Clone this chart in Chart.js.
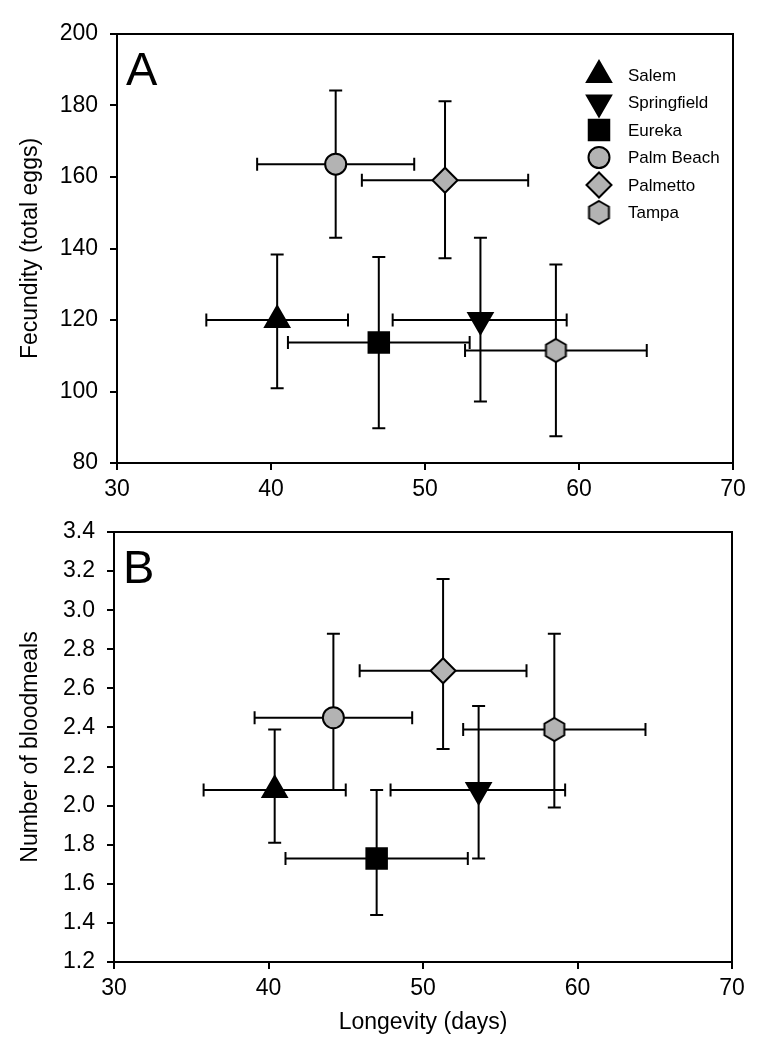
<!DOCTYPE html>
<html>
<head>
<meta charset="utf-8">
<script src="https://cdn.jsdelivr.net/npm/chart.js@4.4.0/dist/chart.umd.min.js"></script>
<style>
  html, body { margin: 0; padding: 0; background: #fff; }
  canvas { display: block; }
</style>
</head>
<body>
<canvas id="chartA" width="765" height="500"></canvas>
<canvas id="chartB" width="765" height="550"></canvas>
<script>
// values
const sites = ['Salem', 'Springfield', 'Eureka', 'Palm Beach', 'Palmetto', 'Tampa'];

const longevity   = [40.4, 53.6, 47.0, 44.2, 51.3, 58.5];
const longevityLo = [35.8, 47.9, 41.1, 39.1, 45.9, 52.6];
const longevityHi = [45.0, 59.2, 52.9, 49.3, 56.7, 64.4];

const fecundity   = [120.0, 120.0, 113.7, 163.6, 159.1, 111.5];
const fecundityLo = [100.9, 97.2, 89.7, 143.0, 137.3, 87.5];
const fecundityHi = [138.3, 143.0, 137.6, 184.2, 181.2, 135.5];

const bloodmeals   = [2.08, 2.08, 1.73, 2.45, 2.69, 2.39];
const bloodmealsLo = [1.81, 1.73, 1.44, 2.08, 2.29, 1.99];
const bloodmealsHi = [2.39, 2.51, 2.08, 2.88, 3.16, 2.88];

const xTicks  = [30, 40, 50, 60, 70];
const yTicksA = [80, 100, 120, 140, 160, 180, 200];
const yTicksB = [1.2, 1.4, 1.6, 1.8, 2.0, 2.2, 2.4, 2.6, 2.8, 3.0, 3.2, 3.4];

const FONT = '"Liberation Sans", Arial, sans-serif';
const GREY = '#b3b3b3';

function hexImage(r) {
  const s = Math.ceil(r * 2 + 4);
  const c = document.createElement('canvas');
  c.width = s;
  c.height = s;
  const g = c.getContext('2d');
  g.beginPath();
  for (let k = 0; k < 6; k++) {
    const a = -Math.PI / 2 + k * Math.PI / 3;
    g.lineTo(s / 2 + r * Math.cos(a), s / 2 + r * Math.sin(a));
  }
  g.closePath();
  g.fillStyle = GREY;
  g.fill();
  g.lineWidth = 2;
  g.strokeStyle = '#000';
  g.stroke();
  return c;
}

// marker look for each site
const markers = [
  { pointStyle: 'triangle', radius: 14, rotation: 0, fill: '#000' },
  { pointStyle: 'triangle', radius: 14, rotation: 180, fill: '#000' },
  { pointStyle: 'rect', radius: 14.5, rotation: 0, fill: '#000' },
  { pointStyle: 'circle', radius: 10.5, rotation: 0, fill: GREY },
  { pointStyle: 'rectRot', radius: 12.5, rotation: 0, fill: GREY },
  { pointStyle: hexImage(11.5), radius: 11.5, rotation: 0, fill: GREY },
];

function makeDatasets(yVals) {
  return sites.map(function (name, i) {
    const m = markers[i];
    return {
      label: name,
      data: [{ x: longevity[i], y: yVals[i] }],
      pointStyle: m.pointStyle,
      pointRadius: m.radius,
      pointRotation: m.rotation,
      pointBackgroundColor: m.fill,
      pointBorderColor: '#000',
      pointBorderWidth: 2,
      showLine: false,
    };
  });
}

const errorBars = {
  id: 'errorBars',
  beforeDatasetsDraw(chart, args, opts) {
    const ctx = chart.ctx;
    const xs = chart.scales.x;
    const ys = chart.scales.y;
    const cap = 6.5;
    ctx.save();
    ctx.strokeStyle = '#000';
    ctx.lineWidth = 2;
    chart.data.datasets.forEach(function (ds, i) {
      const p = ds.data[0];
      const px = xs.getPixelForValue(p.x);
      const py = ys.getPixelForValue(p.y);
      const x0 = xs.getPixelForValue(opts.xLo[i]);
      const x1 = xs.getPixelForValue(opts.xHi[i]);
      const y0 = ys.getPixelForValue(opts.yLo[i]);
      const y1 = ys.getPixelForValue(opts.yHi[i]);
      ctx.beginPath();
      ctx.moveTo(x0, py); ctx.lineTo(x1, py);
      ctx.moveTo(x0, py - cap); ctx.lineTo(x0, py + cap);
      ctx.moveTo(x1, py - cap); ctx.lineTo(x1, py + cap);
      ctx.moveTo(px, y0); ctx.lineTo(px, y1);
      ctx.moveTo(px - cap, y0); ctx.lineTo(px + cap, y0);
      ctx.moveTo(px - cap, y1); ctx.lineTo(px + cap, y1);
      ctx.stroke();
    });
    ctx.restore();
  },
};

const frame = {
  id: 'frame',
  afterDraw(chart, args, opts) {
    const a = chart.chartArea;
    const ctx = chart.ctx;
    ctx.save();
    ctx.strokeStyle = '#000';
    ctx.lineWidth = 2;
    ctx.beginPath();
    ctx.moveTo(a.left, a.top);
    ctx.lineTo(a.right, a.top);
    ctx.lineTo(a.right, a.bottom);
    ctx.stroke();
    ctx.fillStyle = '#000';
    ctx.font = '47px ' + FONT;
    ctx.textBaseline = 'alphabetic';
    ctx.fillText(opts.letter, a.left + 9, a.top + 51);
    ctx.restore();
  },
};

const insideLegend = {
  id: 'insideLegend',
  afterDatasetsDraw(chart, args, opts) {
    if (!opts.show) return;
    const ctx = chart.ctx;
    const x = chart.chartArea.right - 134;
    ctx.save();
    chart.data.datasets.forEach(function (ds, i) {
      const y = chart.chartArea.top + 41 + i * 27.5;
      ctx.fillStyle = ds.pointBackgroundColor;
      ctx.strokeStyle = '#000';
      ctx.lineWidth = 2;
      Chart.helpers.drawPoint(ctx, {
        pointStyle: ds.pointStyle,
        rotation: ds.pointRotation,
        radius: ds.pointRadius,
        borderWidth: 2,
      }, x, y);
      ctx.fillStyle = '#000';
      ctx.font = '17px ' + FONT;
      ctx.textBaseline = 'middle';
      ctx.textAlign = 'left';
      ctx.fillText(ds.label, x + 29, y + 1);
    });
    ctx.restore();
  },
};

function axisStyle() {
  return {
    grid: { display: true, drawOnChartArea: false, drawTicks: true, tickLength: 7, color: '#000', lineWidth: 2 },
    border: { display: true, color: '#000', width: 2 },
  };
}

function buildChart(id, cfg) {
  return new Chart(document.getElementById(id), {
    type: 'scatter',
    data: { datasets: makeDatasets(cfg.yVals) },
    options: {
      responsive: false,
      animation: false,
      layout: { padding: { left: 0, top: cfg.top, right: cfg.right, bottom: 0 } },
      plugins: {
        legend: { display: false },
        tooltip: { enabled: false },
        errorBars: { xLo: longevityLo, xHi: longevityHi, yLo: cfg.yLo, yHi: cfg.yHi },
        frame: { letter: cfg.letter },
        insideLegend: { show: cfg.legend },
      },
      scales: {
        x: Object.assign(axisStyle(), {
          type: 'linear',
          min: 30,
          max: 70,
          afterBuildTicks: function (s) { s.ticks = xTicks.map(function (v) { return { value: v }; }); },
          afterFit: function (s) { s.height = cfg.xHeight; },
          ticks: { color: '#000', font: { family: FONT, size: 23 }, padding: 6 },
          title: {
            display: !!cfg.xTitle,
            text: cfg.xTitle || '',
            color: '#000',
            font: { family: FONT, size: 23 },
            padding: { top: 0, bottom: 14 },
          },
        }),
        y: Object.assign(axisStyle(), {
          type: 'linear',
          min: cfg.yTicks[0],
          max: cfg.yTicks[cfg.yTicks.length - 1],
          afterBuildTicks: function (s) { s.ticks = cfg.yTicks.map(function (v) { return { value: v }; }); },
          afterFit: function (s) { s.width = cfg.yWidth; },
          ticks: {
            color: '#000',
            font: { family: FONT, size: 23 },
            padding: 12,
            callback: function (v) { return cfg.fmt(v); },
          },
          title: {
            display: true,
            text: cfg.yTitle,
            color: '#000',
            font: { family: FONT, size: 23 },
            padding: { top: 17, bottom: 0 },
          },
        }),
      },
    },
    plugins: [errorBars, frame, insideLegend],
  });
}

buildChart('chartA', {
  yVals: fecundity, yLo: fecundityLo, yHi: fecundityHi, yTicks: yTicksA,
  yTitle: 'Fecundity (total eggs)', xTitle: null, letter: 'A', legend: true,
  top: 34, right: 32, yWidth: 117, xHeight: 37,
  fmt: function (v) { return String(v); },
});

buildChart('chartB', {
  yVals: bloodmeals, yLo: bloodmealsLo, yHi: bloodmealsHi, yTicks: yTicksB,
  yTitle: 'Number of bloodmeals', xTitle: 'Longevity (days)', letter: 'B', legend: false,
  top: 32, right: 33, yWidth: 114, xHeight: 88,
  fmt: function (v) { return v.toFixed(1); },
});
</script>
</body>
</html>
